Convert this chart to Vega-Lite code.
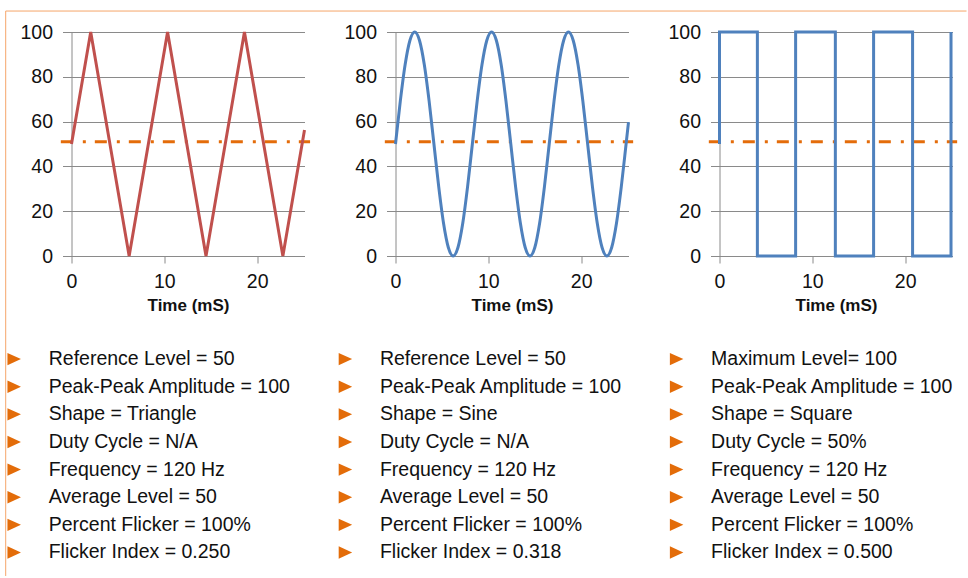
{
  "$schema": "https://vega.github.io/schema/vega-lite/v6.json",
  "autosize": {"type": "pad"},
  "padding": {"left": 4.5, "top": 10, "right": 0, "bottom": 0},
  "background": "white",
  "config": {
    "view": {"stroke": null},
    "font": "Liberation Sans",
    "axis": {
      "labelFont": "Liberation Sans",
      "labelFontSize": 19.5,
      "labelColor": "#111111",
      "tickColor": "#8a8a8a",
      "gridColor": "#8a8a8a",
      "domainColor": "#8a8a8a",
      "gridOpacity": 1,
      "domainWidth": 1,
      "tickWidth": 1,
      "gridWidth": 1,
      "titleFont": "Liberation Sans",
      "titleColor": "#111111"
    },
    "axisX": {
      "labelFlush": false,
      "grid": false,
      "tickSize": 7,
      "labelPadding": 9.5,
      "titleFontSize": 17,
      "titleFontWeight": "bold",
      "titlePadding": 6
    },
    "axisY": {
      "grid": true,
      "tickSize": 9,
      "labelPadding": 10
    }
  },
  "datasets": {
    "triangle": [
      {"t": 0, "v": 50}, {"t": 2.07, "v": 100}, {"t": 6.21, "v": 0}, {"t": 10.35, "v": 100},
      {"t": 14.49, "v": 0}, {"t": 18.63, "v": 100}, {"t": 22.77, "v": 0}, {"t": 25.1, "v": 56.3}
    ],
    "sine": [
      {"t": 0, "v": 50}, {"t": 0.5175, "v": 69.13}, {"t": 1.035, "v": 85.36}, {"t": 1.5525, "v": 96.19},
      {"t": 2.07, "v": 100}, {"t": 2.5875, "v": 96.19}, {"t": 3.105, "v": 85.36}, {"t": 3.6225, "v": 69.13},
      {"t": 4.14, "v": 50}, {"t": 4.6575, "v": 30.87}, {"t": 5.175, "v": 14.64}, {"t": 5.6925, "v": 3.81},
      {"t": 6.21, "v": 0}, {"t": 6.7275, "v": 3.81}, {"t": 7.245, "v": 14.64}, {"t": 7.7625, "v": 30.87},
      {"t": 8.28, "v": 50}, {"t": 8.7975, "v": 69.13}, {"t": 9.315, "v": 85.36}, {"t": 9.8325, "v": 96.19},
      {"t": 10.35, "v": 100}, {"t": 10.8675, "v": 96.19}, {"t": 11.385, "v": 85.36}, {"t": 11.9025, "v": 69.13},
      {"t": 12.42, "v": 50}, {"t": 12.9375, "v": 30.87}, {"t": 13.455, "v": 14.64}, {"t": 13.9725, "v": 3.81},
      {"t": 14.49, "v": 0}, {"t": 15.0075, "v": 3.81}, {"t": 15.525, "v": 14.64}, {"t": 16.0425, "v": 30.87},
      {"t": 16.56, "v": 50}, {"t": 17.0775, "v": 69.13}, {"t": 17.595, "v": 85.36}, {"t": 18.1125, "v": 96.19},
      {"t": 18.63, "v": 100}, {"t": 19.1475, "v": 96.19}, {"t": 19.665, "v": 85.36}, {"t": 20.1825, "v": 69.13},
      {"t": 20.7, "v": 50}, {"t": 21.2175, "v": 30.87}, {"t": 21.735, "v": 14.64}, {"t": 22.2525, "v": 3.81},
      {"t": 22.77, "v": 0}, {"t": 23.2875, "v": 3.81}, {"t": 23.805, "v": 14.64}, {"t": 24.3225, "v": 30.87},
      {"t": 24.84, "v": 50}, {"t": 25.1, "v": 59.8}
    ],
    "square": [
      {"i": 0, "t": 0, "v": 50}, {"i": 1, "t": 0, "v": 100}, {"i": 2, "t": 4.08, "v": 100}, {"i": 3, "t": 4.08, "v": 0},
      {"i": 4, "t": 8.2, "v": 0}, {"i": 5, "t": 8.2, "v": 100}, {"i": 6, "t": 12.48, "v": 100}, {"i": 7, "t": 12.48, "v": 0},
      {"i": 8, "t": 16.6, "v": 0}, {"i": 9, "t": 16.6, "v": 100}, {"i": 10, "t": 20.8, "v": 100}, {"i": 11, "t": 20.8, "v": 0},
      {"i": 12, "t": 24.94, "v": 0}, {"i": 13, "t": 24.94, "v": 100}
    ],
    "info": [
      {"col": 0, "row": 0, "label": "Reference Level = 50"},
      {"col": 0, "row": 1, "label": "Peak-Peak Amplitude = 100"},
      {"col": 0, "row": 2, "label": "Shape = Triangle"},
      {"col": 0, "row": 3, "label": "Duty Cycle = N/A"},
      {"col": 0, "row": 4, "label": "Frequency = 120 Hz"},
      {"col": 0, "row": 5, "label": "Average Level = 50"},
      {"col": 0, "row": 6, "label": "Percent Flicker = 100%"},
      {"col": 0, "row": 7, "label": "Flicker Index = 0.250"},
      {"col": 1, "row": 0, "label": "Reference Level = 50"},
      {"col": 1, "row": 1, "label": "Peak-Peak Amplitude = 100"},
      {"col": 1, "row": 2, "label": "Shape = Sine"},
      {"col": 1, "row": 3, "label": "Duty Cycle = N/A"},
      {"col": 1, "row": 4, "label": "Frequency = 120 Hz"},
      {"col": 1, "row": 5, "label": "Average Level = 50"},
      {"col": 1, "row": 6, "label": "Percent Flicker = 100%"},
      {"col": 1, "row": 7, "label": "Flicker Index = 0.318"},
      {"col": 2, "row": 0, "label": "Maximum Level= 100"},
      {"col": 2, "row": 1, "label": "Peak-Peak Amplitude = 100"},
      {"col": 2, "row": 2, "label": "Shape = Square"},
      {"col": 2, "row": 3, "label": "Duty Cycle = 50%"},
      {"col": 2, "row": 4, "label": "Frequency = 120 Hz"},
      {"col": 2, "row": 5, "label": "Average Level = 50"},
      {"col": 2, "row": 6, "label": "Percent Flicker = 100%"},
      {"col": 2, "row": 7, "label": "Flicker Index = 0.500"}
    ]
  },
  "columns": 3,
  "bounds": "flush",
  "spacing": {"row": 89.3, "column": 91},
  "concat": [
    {
      "width": 233,
      "height": 224,
      "layer": [
        {
          "data": {"values": [{}]},
          "mark": {"type": "rule", "color": "#E46C0A", "strokeWidth": 3, "strokeDash": [12, 10, 3, 9]},
          "encoding": {
            "x": {"datum": -1.15, "type": "quantitative", "scale": {"domain": [0, 25.1], "nice": false, "zero": false}},
            "x2": {"datum": 25.7},
            "y": {"datum": 51, "type": "quantitative", "scale": {"domain": [0, 100], "nice": false}}
          }
        },
        {
          "data": {"name": "triangle"},
          "mark": {"type": "line", "color": "#C0504D", "strokeWidth": 3},
          "encoding": {
            "x": {"field": "t", "type": "quantitative", "scale": {"domain": [0, 25.1], "nice": false, "zero": false}, "axis": {"values": [0, 10, 20], "title": "Time (mS)"}},
            "y": {"field": "v", "type": "quantitative", "scale": {"domain": [0, 100], "nice": false}, "axis": {"values": [0, 20, 40, 60, 80, 100], "title": null}}
          }
        }
      ]
    },
    {
      "width": 233,
      "height": 224,
      "layer": [
        {
          "data": {"values": [{}]},
          "mark": {"type": "rule", "color": "#E46C0A", "strokeWidth": 3, "strokeDash": [12, 10, 3, 9]},
          "encoding": {
            "x": {"datum": -1.15, "type": "quantitative", "scale": {"domain": [0, 25.1], "nice": false, "zero": false}},
            "x2": {"datum": 25.6},
            "y": {"datum": 51, "type": "quantitative", "scale": {"domain": [0, 100], "nice": false}}
          }
        },
        {
          "data": {"name": "sine"},
          "mark": {"type": "line", "color": "#4F81BD", "strokeWidth": 3, "interpolate": "monotone"},
          "encoding": {
            "x": {"field": "t", "type": "quantitative", "scale": {"domain": [0, 25.1], "nice": false, "zero": false}, "axis": {"values": [0, 10, 20], "title": "Time (mS)"}},
            "y": {"field": "v", "type": "quantitative", "scale": {"domain": [0, 100], "nice": false}, "axis": {"values": [0, 20, 40, 60, 80, 100], "title": null}}
          }
        }
      ]
    },
    {
      "width": 233,
      "height": 224,
      "layer": [
        {
          "data": {"values": [{}]},
          "mark": {"type": "rule", "color": "#E46C0A", "strokeWidth": 3, "strokeDash": [12, 10, 3, 9]},
          "encoding": {
            "x": {"datum": -1.15, "type": "quantitative", "scale": {"domain": [0, 25.1], "nice": false, "zero": false}},
            "x2": {"datum": 25.6},
            "y": {"datum": 51, "type": "quantitative", "scale": {"domain": [0, 100], "nice": false}}
          }
        },
        {
          "data": {"name": "square"},
          "mark": {"type": "line", "color": "#4F81BD", "strokeWidth": 3},
          "encoding": {
            "x": {"field": "t", "type": "quantitative", "scale": {"domain": [0, 25.1], "nice": false, "zero": false}, "axis": {"values": [0, 10, 20], "title": "Time (mS)"}},
            "y": {"field": "v", "type": "quantitative", "scale": {"domain": [0, 100], "nice": false}, "axis": {"values": [0, 20, 40, 60, 80, 100], "title": null}},
            "order": {"field": "i"}
          }
        }
      ]
    },
    {
      "width": 233,
      "height": 221,
      "layer": [
        {
          "data": {"values": [{}]},
          "mark": {"type": "rule", "color": "#F5A66A", "strokeWidth": 1},
          "encoding": {
            "x": {"datum": -0.0257, "type": "quantitative", "scale": {"domain": [0.173, 0.8765], "nice": false, "zero": false}, "axis": null},
            "y": {"datum": -12.6, "type": "quantitative", "scale": {"domain": [-0.5, 7.5], "reverse": true, "nice": false, "zero": false}, "axis": null},
            "y2": {"datum": 7.85}
          }
        },
        {
          "data": {"values": [{}]},
          "mark": {"type": "rule", "color": "#F5A66A", "strokeWidth": 1},
          "encoding": {
            "x": {"datum": -0.0257, "type": "quantitative", "scale": {"domain": [0.173, 0.8765], "nice": false, "zero": false}, "axis": null},
            "x2": {"datum": 2.8753},
            "y": {"datum": -12.6, "type": "quantitative", "scale": {"domain": [-0.5, 7.5], "reverse": true, "nice": false, "zero": false}, "axis": null}
          }
        },
        {
          "data": {"name": "info"},
          "mark": {"type": "point", "shape": "M-1,-0.92L1,0L-1,0.92Z", "filled": true, "size": 182, "color": "#E36C09", "opacity": 1, "strokeWidth": 0},
          "encoding": {
            "x": {"field": "col", "type": "quantitative", "scale": {"domain": [0.173, 0.8765], "nice": false, "zero": false}, "axis": null},
            "y": {"field": "row", "type": "quantitative", "scale": {"domain": [-0.5, 7.5], "reverse": true, "nice": false, "zero": false}, "axis": null}
          }
        },
        {
          "data": {"name": "info"},
          "mark": {"type": "text", "align": "left", "baseline": "middle", "dx": 34.5, "font": "Liberation Sans", "fontSize": 19.5, "color": "#111111"},
          "encoding": {
            "x": {"field": "col", "type": "quantitative", "scale": {"domain": [0.173, 0.8765], "nice": false, "zero": false}, "axis": null},
            "y": {"field": "row", "type": "quantitative", "scale": {"domain": [-0.5, 7.5], "reverse": true, "nice": false, "zero": false}, "axis": null},
            "text": {"field": "label"}
          }
        }
      ]
    }
  ]
}
